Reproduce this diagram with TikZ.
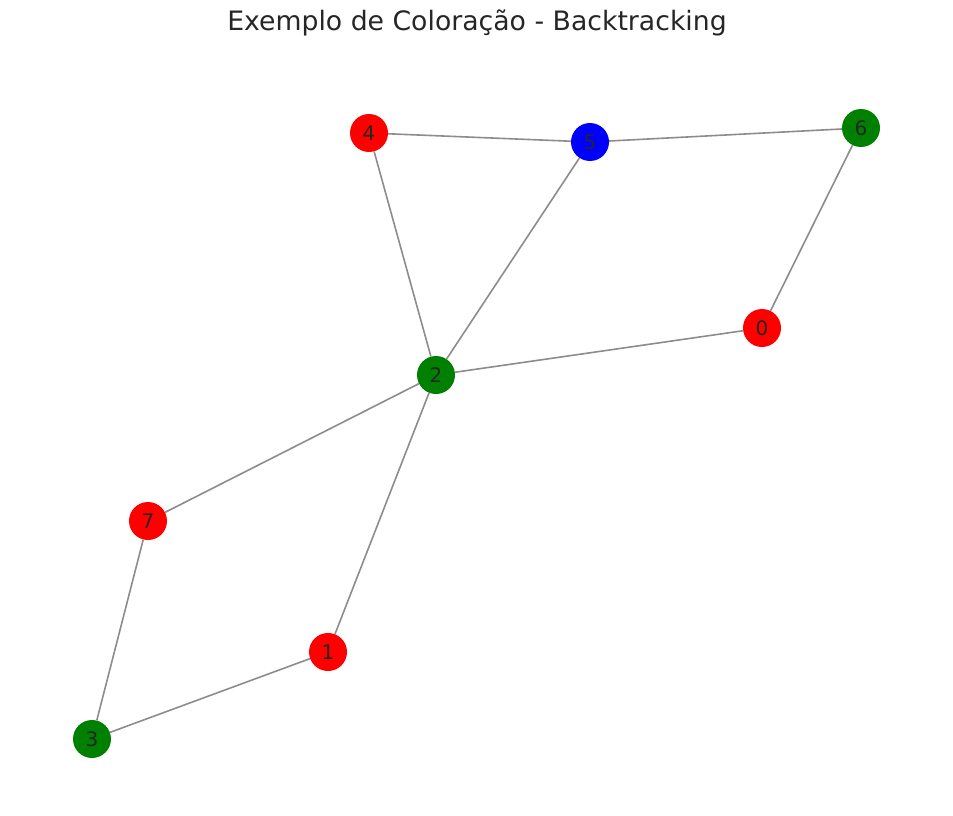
\documentclass[tikz,border=0pt]{standalone}
\usepackage{fontspec}
\setmainfont{DejaVu Sans}
\usetikzlibrary{positioning}
\definecolor{nxred}{HTML}{FF0000}
\definecolor{nxblue}{HTML}{0000FF}
\definecolor{nxgreen}{HTML}{008000}
\definecolor{nxedge}{HTML}{8C8C8C}
\definecolor{nxtext}{HTML}{262626}

\begin{document}
\begin{tikzpicture}
[x=1pt,y=-1pt,
  vertex/.style={circle,inner sep=0pt,minimum size=38pt,text=nxtext,
    font=\fontsize{20}{22}\selectfont},
  link/.style={draw=nxedge,line width=1.6pt}]
\useasboundingbox (0,0) rectangle (953,816);
\node[text=nxtext,font=\fontsize{26.7}{30}\selectfont] (title) at (477,23)
  {Exemplo de Coloração - Backtracking};
\node[vertex,fill=nxred](n4) at (369,133) {4};
\node[vertex,fill=nxblue](n5) at (590,142) {5};
\node[vertex,fill=nxgreen](n6) at (861,128) {6};
\node[vertex,fill=nxred](n0) at (762,328) {0};
\node[vertex,fill=nxgreen](n2) at (436,375) {2};
\node[vertex,fill=nxred](n7) at (148,521) {7};
\node[vertex,fill=nxred](n1) at (328,652) {1};
\node[vertex,fill=nxgreen](n3) at (92,739) {3};
\path[link] (n4) edge (n5) (n5) edge (n6) (n4) edge (n2) (n5) edge (n2)
  (n6) edge (n0) (n0) edge (n2) (n2) edge (n7) (n2) edge (n1)
  (n7) edge (n3) (n1) edge (n3);
\end{tikzpicture}
\end{document}
